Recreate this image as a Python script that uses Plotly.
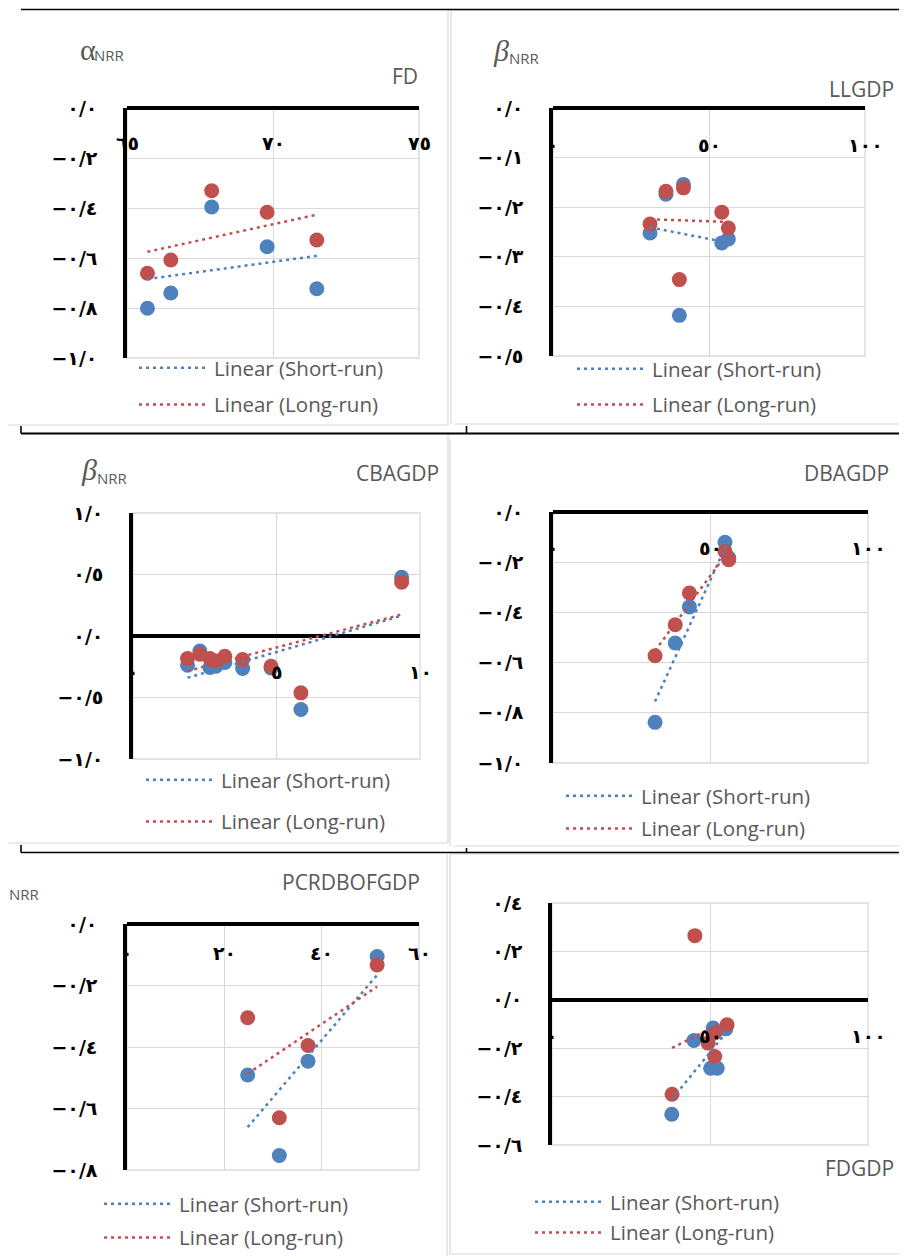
import numpy as np
import plotly.graph_objects as go

W, H = 907, 1256
OFF = 8  # page body margin of the html file

# ---------------- data ----------------
fd_x = [65.7, 66.5, 67.9, 69.8, 71.5]
fd_short = [-0.801, -0.740, -0.396, -0.555, -0.723]
fd_long = [-0.661, -0.608, -0.331, -0.417, -0.528]

llgdp_x = [31.1, 36.2, 41.8, 40.5, 54.1, 56.2]
llgdp_short = [-0.252, -0.174, -0.154, -0.418, -0.272, -0.264]
llgdp_long = [-0.234, -0.168, -0.161, -0.346, -0.210, -0.242]

cbagdp_x = [1.9, 2.33, 2.68, 2.89, 3.2, 3.82, 4.81, 5.85, 9.36]
cbagdp_short = [-0.238, -0.122, -0.256, -0.246, -0.216, -0.264, -0.260, -0.597, 0.478]
cbagdp_long = [-0.183, -0.148, -0.183, -0.203, -0.165, -0.191, -0.246, -0.462, 0.438]

dbagdp_x = [32.4, 38.8, 43.3, 54.6, 55.8]
dbagdp_short = [-0.838, -0.522, -0.378, -0.121, -0.182]
dbagdp_long = [-0.573, -0.449, -0.323, -0.157, -0.190]

pcr_x = [24.8, 31.3, 37.2, 51.4]
pcr_short = [-0.491, -0.753, -0.446, -0.106]
pcr_long = [-0.305, -0.630, -0.395, -0.133]

fdgdp_x_short = [37.9, 44.9, 51.0, 50.2, 52.3, 55.0]
fdgdp_short = [-0.473, -0.168, -0.117, -0.283, -0.283, -0.120]
fdgdp_x_long = [38.0, 45.2, 55.4, 51.5, 49.4, 51.5]
fdgdp_long = [-0.390, 0.265, -0.103, -0.137, -0.179, -0.234]

# tick values / labels
fd_xticks = [65, 70, 75]
fd_xlabels = ["٦٥", "٧٠", "٧٥"]
fd_yticks = [0, -0.2, -0.4, -0.6, -0.8, -1.0]
fd_ylabels = ["٠/٠", "−٠/٢", "−٠/٤", "−٠/٦", "−٠/٨", "−١/٠"]

llgdp_xticks = [0, 50, 100]
llgdp_xlabels = ["٠", "٥٠", "١٠٠"]
llgdp_yticks = [0, -0.1, -0.2, -0.3, -0.4, -0.5]
llgdp_ylabels = ["٠/٠", "−٠/١", "−٠/٢", "−٠/٣", "−٠/٤", "−٠/٥"]

cbagdp_xticks = [0, 5, 10]
cbagdp_xlabels = ["٠", "٥", "١٠"]
cbagdp_yticks = [1.0, 0.5, 0, -0.5, -1.0]
cbagdp_ylabels = ["١/٠", "٠/٥", "٠/٠", "−٠/٥", "−١/٠"]

dbagdp_xticks = [0, 50, 100]
dbagdp_xlabels = ["٠", "٥٠", "١٠٠"]
dbagdp_yticks = [0, -0.2, -0.4, -0.6, -0.8, -1.0]
dbagdp_ylabels = ["٠/٠", "−٠/٢", "−٠/٤", "−٠/٦", "−٠/٨", "−١/٠"]

pcr_xticks = [0, 20, 40, 60]
pcr_xlabels = ["٠", "٢٠", "٤٠", "٦٠"]
pcr_yticks = [0, -0.2, -0.4, -0.6, -0.8]
pcr_ylabels = ["٠/٠", "−٠/٢", "−٠/٤", "−٠/٦", "−٠/٨"]

fdgdp_xticks = [0, 50, 100]
fdgdp_xlabels = ["٠", "٥٠", "١٠٠"]
fdgdp_yticks = [0.4, 0.2, 0, -0.2, -0.4, -0.6]
fdgdp_ylabels = ["٠/٤", "٠/٢", "٠/٠", "−٠/٢", "−٠/٤", "−٠/٦"]

series_names = ["Linear (Short-run)", "Linear (Long-run)"]

data = [
    dict(xs=fd_x, ys=fd_short, xl=fd_x, yl=fd_long, xt=fd_xticks, xtl=fd_xlabels,
         yt=fd_yticks, ytl=fd_ylabels, title="FD"),
    dict(xs=llgdp_x, ys=llgdp_short, xl=llgdp_x, yl=llgdp_long, xt=llgdp_xticks, xtl=llgdp_xlabels,
         yt=llgdp_yticks, ytl=llgdp_ylabels, title="LLGDP"),
    dict(xs=cbagdp_x, ys=cbagdp_short, xl=cbagdp_x, yl=cbagdp_long, xt=cbagdp_xticks, xtl=cbagdp_xlabels,
         yt=cbagdp_yticks, ytl=cbagdp_ylabels, title="CBAGDP"),
    dict(xs=dbagdp_x, ys=dbagdp_short, xl=dbagdp_x, yl=dbagdp_long, xt=dbagdp_xticks, xtl=dbagdp_xlabels,
         yt=dbagdp_yticks, ytl=dbagdp_ylabels, title="DBAGDP"),
    dict(xs=pcr_x, ys=pcr_short, xl=pcr_x, yl=pcr_long, xt=pcr_xticks, xtl=pcr_xlabels,
         yt=pcr_yticks, ytl=pcr_ylabels, title="PCRDBOFGDP"),
    dict(xs=fdgdp_x_short, ys=fdgdp_short, xl=fdgdp_x_long, yl=fdgdp_long, xt=fdgdp_xticks,
         xtl=fdgdp_xlabels, yt=fdgdp_yticks, ytl=fdgdp_ylabels, title="FDGDP"),
]

# ---------------- layout config (page pixels) ----------------
cfg = [
    dict(dx=(127, 419), dy=(108, 358), xr=[65, 75], yr=[-1, 0], xshift=-35,
         leg=(134, 348, 7), tpos=(420, 76),
         sym=("α", False, 78, 49), nrr=(92, 55)),
    dict(dx=(553, 865), dy=(108, 356), xr=[0, 100], yr=[-0.5, 0], xshift=-37,
         leg=(572, 349, 6), tpos=(896, 89),
         sym=("β", True, 491, 50), nrr=(507, 58)),
    dict(dx=(133, 420), dy=(513, 759), xr=[0, 10], yr=[-1, 1], xshift=-36,
         leg=(141, 760, 12), tpos=(441, 473),
         sym=("β", True, 79, 470), nrr=(95, 478)),
    dict(dx=(553, 868), dy=(512, 763), xr=[0, 100], yr=[-1, 0], xshift=-36,
         leg=(561, 776, 3), tpos=(891, 473), sym=None, nrr=None),
    dict(dx=(127, 419), dy=(924, 1170), xr=[0, 60], yr=[-0.8, 0], xshift=-29,
         leg=(99, 1184, 4), tpos=(422, 882), sym=None, nrr=(7, 894)),
    dict(dx=(552, 868), dy=(903, 1145), xr=[0, 100], yr=[-0.6, 0.4], xshift=-36,
         leg=(530, 1182, 1), tpos=(896, 1168), sym=None, nrr=None),
]

BLUE = "#4f81bd"
RED = "#c0504d"
GRID = "#d9d9d9"
GREY_TXT = "#595959"
TXT_FONT = "Open Sans"


def X(px):
    return (px - OFF) / W


def Y(py):
    return 1 - (py - OFF) / H


fig = go.Figure()
layout = dict(width=W, height=H, margin=dict(l=0, r=0, t=0, b=0, autoexpand=False),
              paper_bgcolor="white", plot_bgcolor="white", showlegend=True)
annotations = []
shapes = []

for i, (d, c) in enumerate(zip(data, cfg), start=1):
    sfx = "" if i == 1 else str(i)
    xa, ya, lg = "x" + sfx, "y" + sfx, "legend" + sfx
    for xs, ys, col in [(d["xs"], d["ys"], BLUE), (d["xl"], d["yl"], RED)]:
        fig.add_trace(go.Scatter(x=xs, y=ys, mode="markers", xaxis=xa, yaxis=ya,
                                 marker=dict(color=col, size=15, line=dict(width=0)),
                                 showlegend=False, hoverinfo="skip"))
    for xs, ys, col, name, g in [(d["xs"], d["ys"], BLUE, series_names[0], "s"),
                                 (d["xl"], d["yl"], RED, series_names[1], "l")]:
        k, b = np.polyfit(xs, ys, 1)
        xx = np.array([min(xs), max(xs)])
        fig.add_trace(go.Scatter(x=xx, y=k * xx + b, mode="lines", xaxis=xa, yaxis=ya,
                                 line=dict(color=col, width=2.5, dash="3px,4px"),
                                 name=name, legend=lg, legendgroup=f"{i}{g}",
                                 hoverinfo="skip"))
    layout["xaxis" + sfx] = dict(
        domain=[X(c["dx"][0]), X(c["dx"][1])], range=c["xr"], anchor=ya,
        tickvals=d["xt"], showticklabels=False, showgrid=True, gridcolor=GRID,
        gridwidth=1.3, zeroline=False, showline=False, ticks="", fixedrange=True)
    layout["yaxis" + sfx] = dict(
        domain=[Y(c["dy"][1]), Y(c["dy"][0])], range=c["yr"], anchor=xa,
        tickvals=d["yt"], ticktext=d["ytl"],
        tickfont=dict(family="DejaVu Sans", size=19, color="black", weight="bold"),
        showgrid=True, gridcolor=GRID, gridwidth=1.3,
        zeroline=True, zerolinecolor="black", zerolinewidth=3.5,
        showline=True, linecolor="black", linewidth=3.5, ticks="",
        ticklabelstandoff=22, fixedrange=True)
    lx, ly, gap = c["leg"]
    layout[lg] = dict(x=X(lx), y=Y(ly), xanchor="left", yanchor="top",
                      xref="paper", yref="paper", bgcolor="rgba(0,0,0,0)",
                      font=dict(family=TXT_FONT, size=20.5, color=GREY_TXT),
                      itemwidth=70, traceorder="grouped", tracegroupgap=gap)
    # plot-area border
    shapes.append(dict(type="rect", xref=xa + " domain", yref=ya + " domain",
                       x0=0, x1=1, y0=0, y1=1, line=dict(color=GRID, width=1.3),
                       layer="below"))
    # x tick labels placed next to the axis crossing (y = 0)
    for v, t in zip(d["xt"], d["xtl"]):
        annotations.append(dict(x=v, y=0, xref=xa, yref=ya, text=t, showarrow=False,
                                yshift=c["xshift"],
                                font=dict(family="DejaVu Sans", size=19, color="black",
                                          weight="bold")))
    # panel title
    annotations.append(dict(x=X(c["tpos"][0]), y=Y(c["tpos"][1]), xref="paper",
                            yref="paper", xanchor="right", yanchor="middle",
                            text=d["title"], showarrow=False,
                            font=dict(family=TXT_FONT, size=21, color=GREY_TXT)))
    # y-axis title (symbol + NRR subscript)
    if c["sym"] is not None:
        s, ital, sx, sy = c["sym"]
        annotations.append(dict(x=X(sx), y=Y(sy), xref="paper", yref="paper",
                                xanchor="left", yanchor="middle",
                                text=f"<i>{s}</i>" if ital else s, showarrow=False,
                                font=dict(family="Liberation Serif", size=30,
                                          color=GREY_TXT)))
    if c["nrr"] is not None:
        annotations.append(dict(x=X(c["nrr"][0]), y=Y(c["nrr"][1]), xref="paper",
                                yref="paper", xanchor="left", yanchor="middle",
                                text="NRR", showarrow=False,
                                font=dict(family=TXT_FONT, size=15, color=GREY_TXT)))


# ---------------- page frame lines (page pixels) ----------------
def pline(x0, y0, x1, y1, color, width):
    shapes.append(dict(type="line", xref="paper", yref="paper",
                       x0=X(x0), x1=X(x1), y0=Y(y0), y1=Y(y1),
                       line=dict(color=color, width=width)))


# light grey chart frames
pline(448, 10, 448, 425, GRID, 1.2)
pline(8, 425, 448, 425, GRID, 1.2)
pline(451, 10, 451, 424, GRID, 1.2)
pline(451, 10, 903, 10, GRID, 1.2)
pline(903, 10, 903, 424, GRID, 1.2)
pline(454, 424, 903, 424, GRID, 1.2)
pline(448, 434, 448, 843, GRID, 1.2)
pline(8, 843, 448, 843, GRID, 1.2)
pline(450, 439, 450, 846, GRID, 1.2)
pline(905, 436, 905, 846, GRID, 1.2)
pline(454, 846, 905, 846, GRID, 1.2)
pline(447, 854, 447, 1256, GRID, 1.2)
pline(450, 854, 450, 1254, GRID, 1.2)
pline(450, 854, 905, 854, GRID, 1.2)
pline(905, 854, 905, 1254, GRID, 1.2)
pline(450, 1254, 905, 1254, GRID, 1.2)

# black table lines
pline(21, 9.5, 907, 9.5, "black", 1.6)
pline(21, 433.5, 907, 433.5, "black", 1.8)
pline(21, 852.5, 907, 852.5, "black", 1.6)
pline(21, 426, 21, 433.5, "black", 1.6)
pline(466.5, 426, 466.5, 433.5, "black", 1.6)
pline(21, 845, 21, 852.5, "black", 1.6)
pline(466.5, 848, 466.5, 852.5, "black", 1.6)

layout["annotations"] = annotations
layout["shapes"] = shapes
fig.update_layout(**layout)
fig.write_html("out.html")
